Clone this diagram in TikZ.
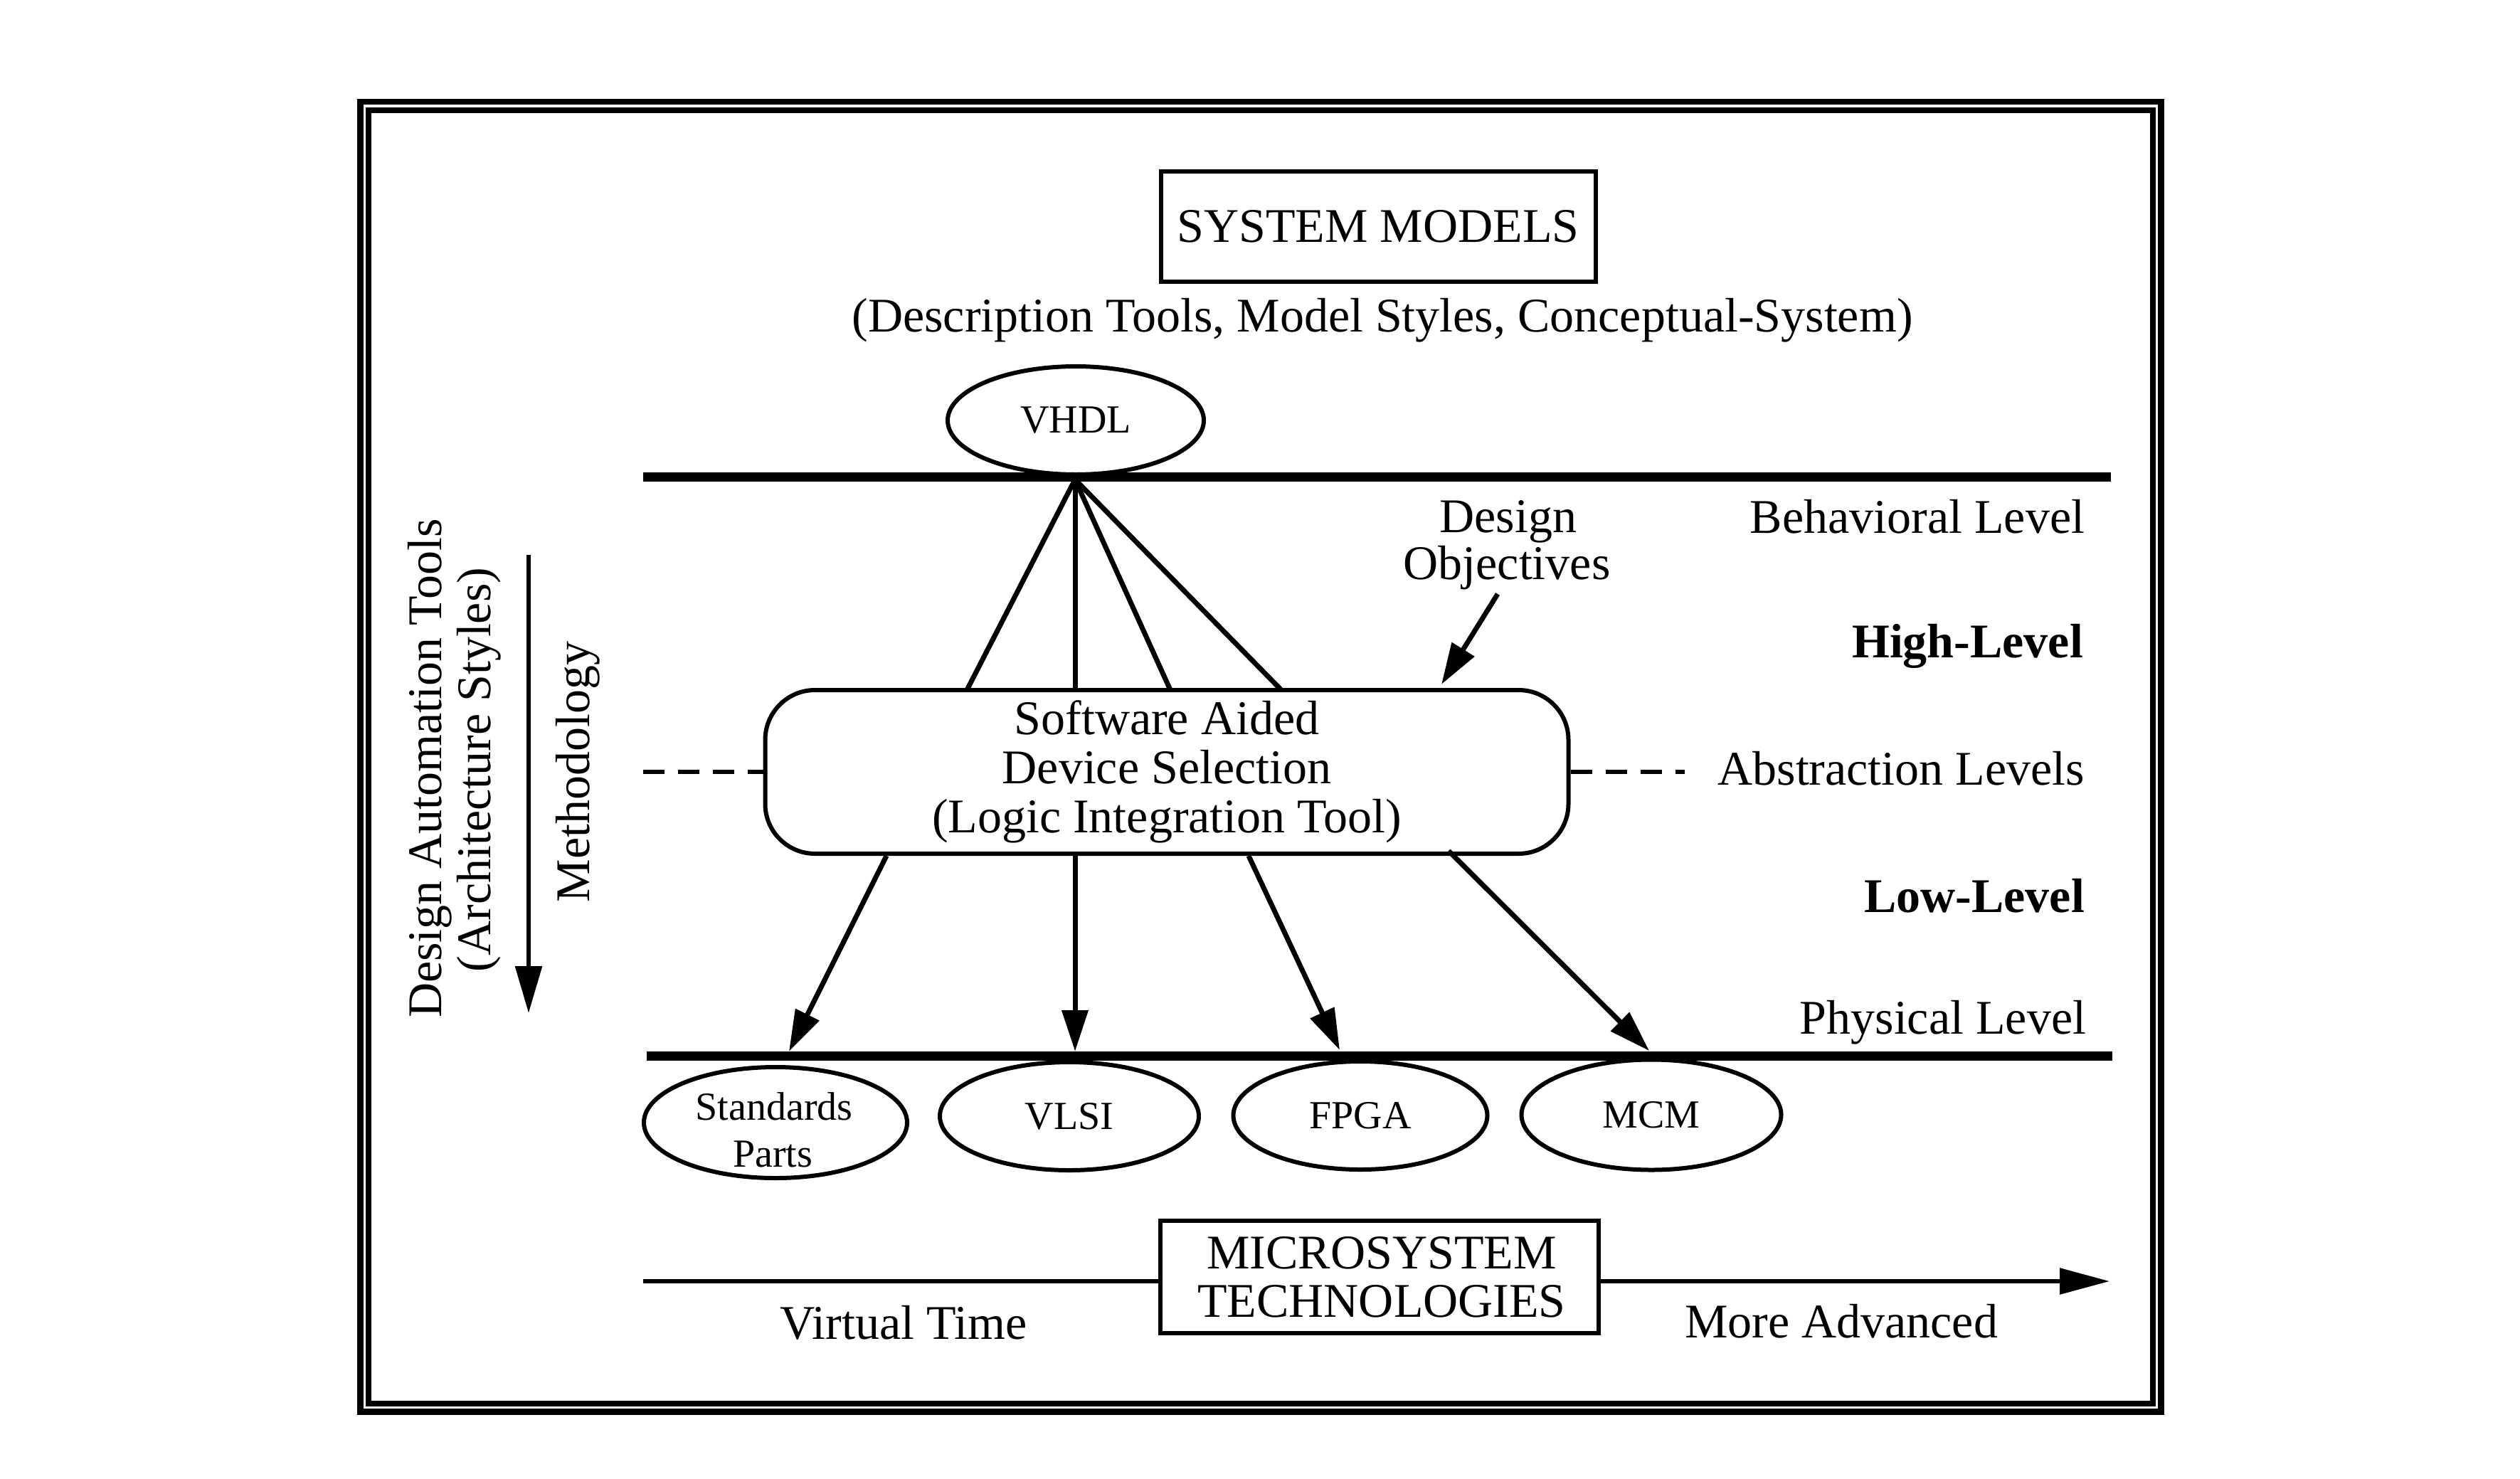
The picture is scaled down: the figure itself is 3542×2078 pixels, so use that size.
\documentclass[tikz,border=0pt]{standalone}
\usepackage{fontspec}
\setmainfont{Liberation Serif}
\usetikzlibrary{arrows.meta,shapes.geometric}
\begin{document}
\begin{tikzpicture}[x=1pt,y=-1pt,
  big/.style={font=\fontsize{68}{69}\selectfont},
  bigb/.style={font=\fontsize{68}{69}\selectfont\bfseries},
  small/.style={font=\fontsize{56}{66}\selectfont},
  lab/.style={inner sep=0pt,outer sep=0pt},
  conn/.style={line width=7pt},
  tipA/.style={-{Triangle[length=58pt,width=36pt]}},
  ell/.style={ellipse,draw,line width=6pt,inner sep=0pt,small},
  boxA/.style={draw,line width=6pt,inner sep=0pt,big},
  levelline/.style={line width=13pt},
  dashA/.style={line width=6pt,dash pattern=on 30pt off 19pt}
]
\useasboundingbox (0,0) rectangle (3542,2078);
\fill[white] (0,0) rectangle (3542,2078);

% double frame
\draw[line width=8.5pt] (506.5,143) rectangle (3037.5,1984.5);
\draw[line width=8pt] (517.5,154.5) rectangle (3026,1972.5);

% system models
\node[boxA,minimum width=611pt,minimum height=155pt] (sysm) at (1937,318) {SYSTEM MODELS};
\node[lab,big,anchor=base] (desc) at (1943,466) {(Description Tools, Model Styles, Conceptual-System)};

% VHDL and behavioral level
\node[ell,minimum width=360pt,minimum height=152pt] (vhdl) at (1512,591) {VHDL};
\coordinate (bl) at (904,670);
\coordinate (br) at (2967,670);
\draw[levelline] (bl) -- (br);
\coordinate (apex) at (1511,674);

% software aided device selection
\node[draw,rounded corners=70pt,line width=6pt,minimum width=1129pt,minimum height=230pt,align=center,big,inner sep=0pt] (sads) at (1640,1085) {Software Aided\\Device Selection\\(Logic Integration Tool)};

\coordinate (t1) at (1359,970);
\coordinate (t2) at (1511,970);
\coordinate (t3) at (1645,970);
\coordinate (t4) at (1801,970);
\draw[conn] (apex) -- (t1);
\draw[conn] (apex) -- (t2);
\draw[conn] (apex) -- (t3);
\draw[conn] (apex) -- (t4);

% design objectives
\node[lab,big,anchor=base] (dobj1) at (2120,748) {Design};
\node[lab,big,anchor=base] (dobj2) at (2118,814) {Objectives};
\coordinate (doa) at (2105,835);
\coordinate (dob) at (2026,962);
\draw[conn,tipA] (doa) -- (dob);

% dashed abstraction lines
\coordinate (dl) at (904,1085);
\coordinate (dr) at (2368,1085);
\draw[dashA] (dl) -- (sads.west);
\draw[dashA] (sads.east) -- (dr);

% right labels
\node[lab,big,anchor=base east] (beh) at (2930,749) {Behavioral Level};
\node[lab,bigb,anchor=base east] (high) at (2928,924) {High-Level};
\node[lab,big,anchor=base east] (abs) at (2930,1103) {Abstraction Levels};
\node[lab,bigb,anchor=base east] (low) at (2930,1282) {Low-Level};
\node[lab,big,anchor=base east] (phys) at (2932,1453) {Physical Level};

% physical level line
\coordinate (pl) at (909,1484);
\coordinate (pr) at (2969,1484);
\draw[levelline] (pl) -- (pr);

% arrows to technologies
\coordinate (s1) at (1246,1203);
\coordinate (s2) at (1511,1203);
\coordinate (s3) at (1755,1203);
\coordinate (s4) at (2036,1196);
\coordinate (e1) at (1109,1478);
\coordinate (e2) at (1511,1478);
\coordinate (e3) at (1883,1476);
\coordinate (e4) at (2318,1477);
\draw[conn,tipA] (s1) -- (e1);
\draw[conn,tipA] (s2) -- (e2);
\draw[conn,tipA] (s3) -- (e3);
\draw[conn,tipA] (s4) -- (e4);

% technology ellipses
\node[ell,minimum width=370pt,minimum height=156pt] (std) at (1090,1578) {};
\node[lab,small,anchor=base] (std1) at (1088,1574) {Standards};
\node[lab,small,anchor=base] (std2) at (1086,1640) {Parts};
\node[ell,minimum width=364pt,minimum height=152pt] (vlsi) at (1503,1569) {VLSI};
\node[ell,minimum width=357pt,minimum height=152pt] (fpga) at (1912,1568) {FPGA};
\node[ell,minimum width=365pt,minimum height=155pt] (mcm) at (2321,1567) {MCM};

% microsystem technologies
\node[draw,line width=6pt,minimum width=616pt,minimum height=158pt,inner sep=0pt] (mst) at (1939,1795) {};
\node[lab,big,anchor=base] (mst1) at (1942,1783) {MICROSYSTEM};
\node[lab,big,anchor=base] (mst2) at (1942,1851) {TECHNOLOGIES};
\coordinate (tl) at (904,1801);
\coordinate (tr) at (2965,1801);
\draw[line width=6pt] (tl) -- (tl -| mst.west);
\draw[line width=6pt,-{Triangle[length=70pt,width=36pt]}] (tr -| mst.east) -- (tr);
\node[lab,big,anchor=base] (vt) at (1270,1882) {Virtual Time};
\node[lab,big,anchor=base] (ma) at (2588,1880) {More Advanced};

% left side
\node[lab,big,rotate=90,anchor=base] (dat) at (620,1080) {Design Automation Tools};
\node[lab,big,rotate=90,anchor=base] (arch) at (689,1082) {(Architecture Styles)};
\node[lab,big,rotate=90,anchor=base] (meth) at (828,1085) {Methodology};
\coordinate (ma1) at (743,780);
\coordinate (ma2) at (743,1424);
\draw[line width=6pt,-{Triangle[length=66pt,width=37pt]}] (ma1) -- (ma2);
\end{tikzpicture}
\end{document}
